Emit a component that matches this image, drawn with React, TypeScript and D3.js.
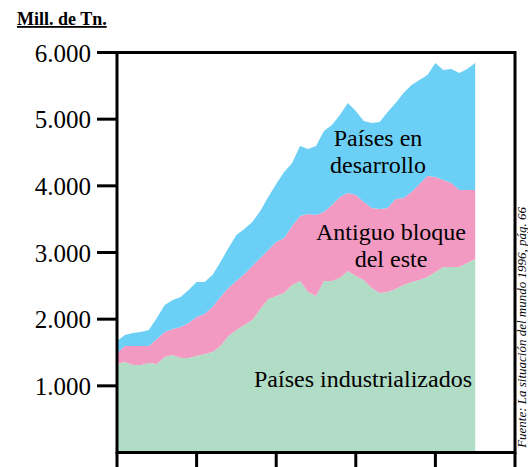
import React from 'react';
import * as d3 from 'd3';

// años 1950-1995, millones de toneladas
const years = d3.range(1950, 1996);

const industrializados = [
  1327, 1357, 1312, 1312, 1342, 1327, 1432, 1462, 1417, 1417,
  1447, 1477, 1507, 1597, 1747, 1837, 1912, 1987, 2152, 2302,
  2347, 2392, 2512, 2572, 2407, 2347, 2572, 2572, 2617, 2722,
  2647, 2587, 2467, 2392, 2407, 2452, 2512, 2557, 2587, 2632,
  2707, 2782, 2782, 2782, 2842, 2902,
];

const bloqueEste = [
  165, 240, 285, 285, 255, 375, 375, 390, 465, 525,
  585, 600, 675, 735, 720, 735, 765, 810, 765, 735,
  810, 825, 885, 975, 1170, 1215, 1035, 1140, 1215, 1170,
  1215, 1170, 1200, 1260, 1260, 1350, 1305, 1350, 1440, 1515,
  1425, 1305, 1260, 1155, 1095, 1035,
];

const desarrollo = [
  180, 165, 195, 210, 240, 315, 405, 435, 450, 495,
  525, 480, 480, 525, 600, 690, 675, 660, 705, 795,
  870, 990, 945, 1050, 975, 1035, 1215, 1200, 1230, 1350,
  1260, 1215, 1275, 1305, 1440, 1440, 1575, 1605, 1560, 1515,
  1710, 1650, 1710, 1755, 1815, 1905,
];

const keys = ['ind', 'este', 'des'];
const colors = ['#b1dcc6', '#f39ac2', '#6ccff6'];
const yTicks = [1000, 2000, 3000, 4000, 5000, 6000];
const xTicks = [1950, 1960, 1970, 1980, 1990, 2000];

const locale = d3.formatLocale({ decimal: ',', thousands: '.', grouping: [3], currency: ['', ''] });
const fmt = locale.format(',');

const serif = { fontFamily: "'Liberation Serif'" };

export default function App() {
  const rows = years.map((yr, i) => ({
    year: yr,
    ind: industrializados[i],
    este: bloqueEste[i],
    des: desarrollo[i],
  }));

  const x = d3.scaleLinear().domain([1950, 2000]).range([117, 515]);
  const y = d3.scaleLinear().domain([0, 6000]).range([452.5, 52.5]);

  const series = d3.stack<any>().keys(keys)(rows);
  const area = d3
    .area<any>()
    .x((d) => x(d.data.year))
    .y0((d) => y(d[0]))
    .y1((d) => y(d[1]));

  return (
    <svg width={528} height={467} style={{ position: 'absolute', left: 0, top: 0, background: '#fff' }}>
      <text x={17} y={25} fontSize={18} fontWeight="bold" textDecoration="underline" style={serif}>
        Mill. de Tn.
      </text>

      {series.map((s, i) => (
        <path key={keys[i]} d={area(s) || ''} fill={colors[i]} />
      ))}

      {/* marco */}
      <rect x={117} y={52.5} width={398} height={400} fill="none" stroke="#000" strokeWidth={3} />

      {yTicks.map((t) => (
        <g key={t}>
          <line x1={97} x2={117} y1={y(t)} y2={y(t)} stroke="#000" strokeWidth={3} />
          <text x={91} y={y(t) + 9} fontSize={25} textAnchor="end" style={serif}>
            {fmt(t)}
          </text>
        </g>
      ))}

      {xTicks.map((t) => (
        <line key={t} x1={x(t)} x2={x(t)} y1={452} y2={467} stroke="#000" strokeWidth={3} />
      ))}

      <text x={378} y={146} fontSize={24} textAnchor="middle" style={serif}>Países en</text>
      <text x={378} y={173} fontSize={24} textAnchor="middle" style={serif}>desarrollo</text>
      <text x={391} y={240} fontSize={24} textAnchor="middle" style={serif}>Antiguo bloque</text>
      <text x={391} y={267} fontSize={24} textAnchor="middle" style={serif}>del este</text>
      <text x={363} y={387} fontSize={24} textAnchor="middle" style={serif}>Países industrializados</text>

      <text
        transform="translate(526,207) rotate(-90)"
        fontSize={13}
        fontStyle="italic"
        textAnchor="end"
        style={serif}
      >
        Fuente: La situación del mundo 1996, pág. 66
      </text>
    </svg>
  );
}
